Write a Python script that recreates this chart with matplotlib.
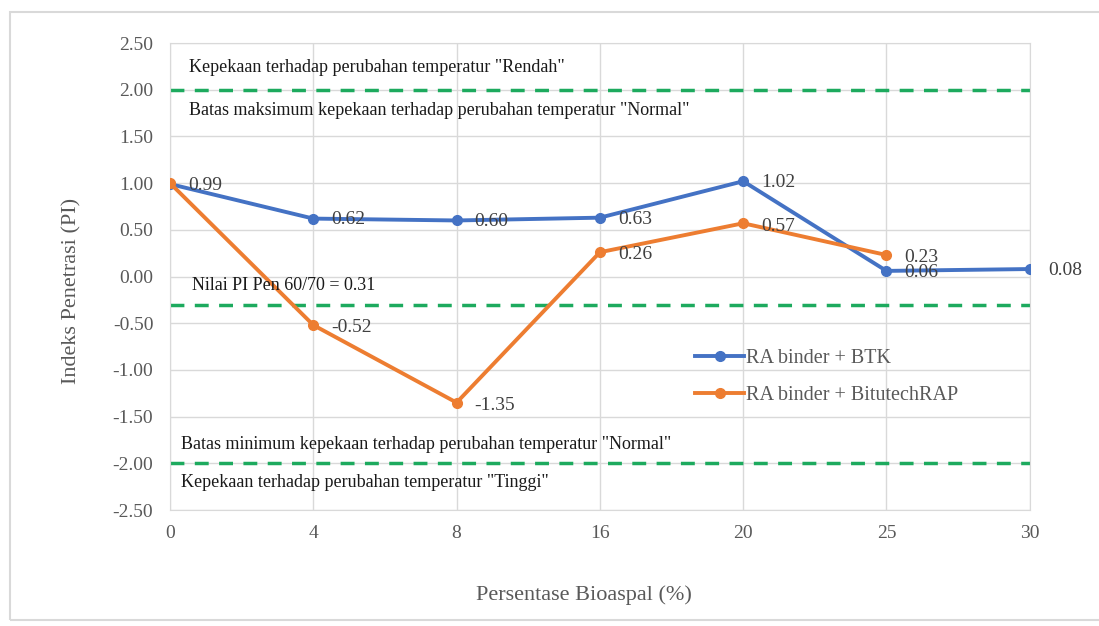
import matplotlib.pyplot as plt
from matplotlib.patches import Rectangle

# data
categories = ['0', '4', '8', '16', '20', '25', '30']
btk = [0.99, 0.62, 0.60, 0.63, 1.02, 0.06, 0.08]
bitutech = [1.00, -0.52, -1.35, 0.26, 0.57, 0.23]
btk_labels = ['0.99', '0.62', '0.60', '0.63', '1.02', '0.06', '0.08']
bitutech_labels = ['', '-0.52', '-1.35', '0.26', '0.57', '0.23']
limits = [2.0, -0.31, -2.0]
y_ticks = [2.5, 2.0, 1.5, 1.0, 0.5, 0.0, -0.5, -1.0, -1.5, -2.0, -2.5]

plt.rcParams['font.family'] = ['Liberation Serif', 'DejaVu Serif']

fig = plt.figure(figsize=(10.99, 6.26), dpi=100)
ax = fig.add_axes([0.1547, 0.1853, 0.937 - 0.1547, 0.9313 - 0.1853])

# light frame around the whole chart
fig.patches.append(Rectangle((10 / 1099, 1 - 620 / 626), 1.1, (620 - 12) / 626,
                             transform=fig.transFigure, fill=False,
                             edgecolor='#d9d9d9', linewidth=1.5))

x = list(range(len(categories)))

for val in limits:
    ax.axhline(val, color='#1daa5e', linestyle=(0, (4, 3)), linewidth=2.5, zorder=2)

ax.plot(x, btk, color='#4472C4', linewidth=2.8, marker='o', markersize=7,
        label='RA binder + BTK', zorder=3)
ax.plot(x[:len(bitutech)], bitutech, color='#ED7D31', linewidth=2.8, marker='o',
        markersize=7, label='RA binder + BitutechRAP', zorder=4)

for xi, yi, lab in zip(x, btk, btk_labels):
    ax.annotate(lab, (xi, yi), xytext=(13, -1), textcoords='offset points',
                ha='left', va='center', fontsize=14, color='#404040', zorder=5)
for xi, yi, lab in zip(x, bitutech, bitutech_labels):
    if lab:
        ax.annotate(lab, (xi, yi), xytext=(13, -2), textcoords='offset points',
                    ha='left', va='center', fontsize=14, color='#404040', zorder=5)

# zone annotations
txt = dict(fontsize=13, color='#1a1a1a', va='center', ha='left', zorder=6)
ax.text(0.13, 2.24, 'Kepekaan terhadap perubahan temperatur "Rendah"', **txt)
ax.text(0.13, 1.78, 'Batas maksimum kepekaan terhadap perubahan temperatur "Normal"', **txt)
ax.text(0.15, -0.10, 'Nilai PI Pen 60/70 = 0.31', **txt)
ax.text(0.08, -1.80, 'Batas minimum kepekaan terhadap perubahan temperatur "Normal"', **txt)
ax.text(0.08, -2.21, 'Kepekaan terhadap perubahan temperatur "Tinggi"', **txt)

ax.set_xlim(0, len(categories) - 1)
ax.set_ylim(-2.5, 2.5)
ax.set_xticks(x)
ax.set_xticklabels(categories)
ax.set_yticks(y_ticks)
ax.set_yticklabels(['%.2f' % v for v in y_ticks])
ax.tick_params(length=0, labelsize=14, labelcolor='#595959')
ax.tick_params(axis='x', pad=11)
ax.tick_params(axis='y', pad=12)
ax.grid(True, color='#d9d9d9', linewidth=1)
ax.set_axisbelow(True)
for s in ax.spines.values():
    s.set_color('#d9d9d9')

ax.set_xlabel('Persentase Bioaspal (%)', fontsize=16, color='#595959')
ax.set_ylabel('Indeks Penetrasi (PI)', fontsize=16, color='#595959')
ax.xaxis.set_label_coords(0.482, -0.162)
ax.yaxis.set_label_coords(-0.103, 0.47)

ax.legend(loc='upper left', bbox_to_anchor=(0.59, 0.383), frameon=False,
          fontsize=14.5, handlelength=2.4, handletextpad=0.1, labelspacing=0.85,
          labelcolor='#595959')

fig.savefig('out.png', dpi=100, facecolor='white')
